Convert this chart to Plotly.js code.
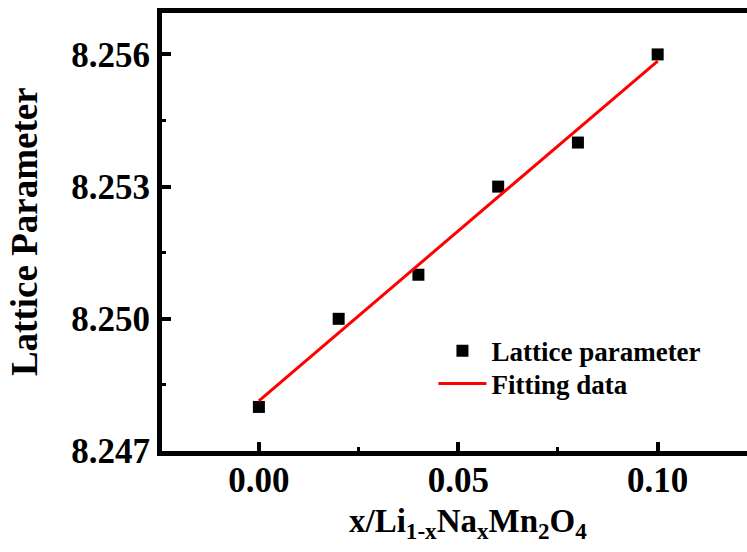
<!DOCTYPE html>
<html>
<head>
<meta charset="utf-8">
<script src="https://cdn.plot.ly/plotly-3.0.1.min.js"></script>
<style>html,body{margin:0;padding:0;background:#fff;}#chart{width:747px;height:552px;}</style>
</head>
<body>
<div id="chart"></div>
<script>
// Data
const xValues = [0.00, 0.02, 0.04, 0.06, 0.08, 0.10];
const latticeValues = [8.2480, 8.2500, 8.2510, 8.2530, 8.2540, 8.2560];
const fitX = [0.00, 0.10];
const fitY = [8.24814, 8.25585];
const seriesNames = ['Lattice parameter', 'Fitting data'];
const xTitle = 'x/Li<sub>1-x</sub>Na<sub>x</sub>Mn<sub>2</sub>O<sub>4</sub>';
const yTitle = 'Lattice Parameter';

const FONT = 'Liberation Serif, Times New Roman, serif';

const traces = [
  {
    x: xValues, y: latticeValues, type: 'scatter', mode: 'markers',
    name: seriesNames[0], legend: 'legend',
    marker: {symbol: 'square', size: 12, color: '#000'}
  },
  {
    x: fitX, y: fitY, type: 'scatter', mode: 'lines',
    name: seriesNames[1], legend: 'legend2',
    line: {color: '#ff0000', width: 3}
  }
];

const legendFont = {family: FONT, size: 27, color: '#000', weight: 'bold'};

const layout = {
  width: 747, height: 552,
  margin: {l: 162, r: 0, t: 13, b: 101, pad: 0},
  paper_bgcolor: '#fff', plot_bgcolor: '#fff',
  showlegend: true,
  legend: {
    x: 0.464, y: 0.228, xanchor: 'left', yanchor: 'middle',
    bgcolor: 'rgba(0,0,0,0)', font: legendFont, itemwidth: 48
  },
  legend2: {
    x: 0.464, y: 0.153, xanchor: 'left', yanchor: 'middle',
    bgcolor: 'rgba(0,0,0,0)', font: legendFont, itemwidth: 48
  },
  xaxis: {
    range: [-0.0243, 0.1224],
    showgrid: false, zeroline: false,
    showline: true, linecolor: '#000', linewidth: 5, mirror: true,
    ticks: 'inside', ticklen: 9, tickwidth: 4, tickcolor: '#000',
    tick0: 0, dtick: 0.05, tickformat: '.2f',
    ticklabelstandoff: -6,
    tickfont: {family: FONT, size: 35, color: '#000', weight: 'bold'},
    minor: {ticks: 'inside', ticklen: 4, tickwidth: 3, dtick: 0.025, tick0: 0, tickcolor: '#000'}
  },
  yaxis: {
    range: [8.247, 8.25694],
    showgrid: false, zeroline: false,
    showline: true, linecolor: '#000', linewidth: 5, mirror: false,
    ticks: 'inside', ticklen: 9, tickwidth: 4, tickcolor: '#000',
    tick0: 8.247, dtick: 0.003, tickformat: '.3f',
    tickfont: {family: FONT, size: 35, color: '#000', weight: 'bold'},
    minor: {ticks: 'inside', ticklen: 4, tickwidth: 3, dtick: 0.0015, tick0: 8.247, tickcolor: '#000'}
  },
  annotations: [
    {
      text: xTitle, xref: 'paper', yref: 'paper',
      x: 0.523, y: -0.218, xanchor: 'center', yanchor: 'bottom',
      showarrow: false,
      font: {family: FONT, size: 33, color: '#000', weight: 'bold'}
    },
    {
      text: yTitle, xref: 'paper', yref: 'paper', textangle: -90,
      x: -0.236, y: 0.502, xanchor: 'center', yanchor: 'middle',
      showarrow: false,
      font: {family: FONT, size: 37, color: '#000', weight: 'bold'}
    }
  ]
};

Plotly.newPlot('chart', traces, layout, {displayModeBar: false, staticPlot: true});
</script>
</body>
</html>
